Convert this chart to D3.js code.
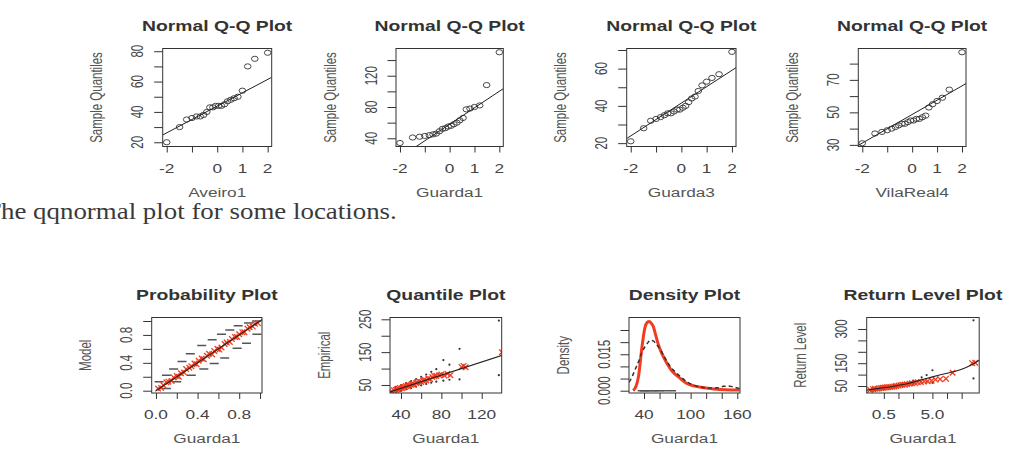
<!DOCTYPE html>
<html>
<head>
<meta charset="utf-8">
<script src="https://cdn.jsdelivr.net/npm/d3@7"></script>
<style>
body { margin: 0; background: #fff; }
svg { display: block; }
</style>
</head>
<body>
<script>
// ---- values ----

// normal Q-Q plots (theoretical quantiles shared by the four locations)
var qqTheo = [-2.00, -1.49, -1.21, -1.00, -0.82, -0.67, -0.54, -0.41, -0.29, -0.17, -0.06,
              0.06, 0.17, 0.29, 0.41, 0.54, 0.67, 0.82, 1.00, 1.21, 1.49, 2.00];
var aveiro1   = [20, 30, 35, 36, 37, 37, 38, 40, 43, 43, 44, 44, 44, 45, 47, 48, 49, 50, 54, 70, 75, 79];
var guarda1   = [34, 41, 42, 43, 44, 45, 46, 49, 52, 53, 55, 56, 58, 60, 63, 66, 77, 78, 80, 82, 108, 150];
var guarda3   = [21, 28, 32, 33, 34, 35, 36, 36, 37, 38, 38, 39, 40, 42, 44, 45, 48, 51, 53, 55, 57, 69];
var vilaReal4 = [31, 37, 38, 39, 40, 41, 42, 43, 43, 44, 45, 45, 46, 46, 47, 48, 53, 55, 57, 59, 64, 87];
var qqNames = ["Aveiro1", "Guarda1", "Guarda3", "VilaReal4"];
var qqLineA = [43.8, 57.9, 41.5, 48.7];   // qqline intercept
var qqLineB = [8.8, 21.1, 8.8, 8.8];      // qqline slope
var qqYLim = [[17.2, 81.8], [29.5, 154.8], [18.2, 70.8], [29, 89.3]];
var qqYTicks = [[20, 30, 40, 50, 60, 70, 80], [40, 60, 80, 100, 120, 140], [20, 30, 40, 50, 60, 70], [30, 40, 50, 60, 70, 80]];
var qqYLabels = [[20, 40, 60, 80], [40, 80, 120], [20, 40, 60], [30, 50, 70]];
var qqXTicks = [-2, -1, 0, 1, 2];
var qqXLabels = [-2, 0, 1, 2];

// probability plot
var probEmp   = [0.02, 0.05, 0.07, 0.10, 0.12, 0.15, 0.17, 0.20, 0.22, 0.24, 0.27, 0.29, 0.32, 0.34, 0.37, 0.39, 0.41, 0.44, 0.46, 0.49,
                 0.51, 0.54, 0.56, 0.59, 0.61, 0.63, 0.66, 0.68, 0.71, 0.73, 0.76, 0.78, 0.80, 0.83, 0.85, 0.88, 0.90, 0.93, 0.95, 0.98];
var probModel = [0.03, 0.04, 0.08, 0.12, 0.13, 0.14, 0.19, 0.21, 0.20, 0.25, 0.26, 0.31, 0.33, 0.35, 0.39, 0.38, 0.43, 0.46, 0.45, 0.50,
                 0.53, 0.52, 0.57, 0.60, 0.59, 0.62, 0.67, 0.69, 0.70, 0.74, 0.77, 0.77, 0.81, 0.84, 0.84, 0.89, 0.91, 0.92, 0.96, 0.97];
var probUpX = [0.03, 0.10, 0.17, 0.25, 0.33, 0.44, 0.54, 0.63, 0.71, 0.79, 0.89, 0.97];
var probUpY = [0.13, 0.22, 0.31, 0.42, 0.53, 0.65, 0.73, 0.81, 0.87, 0.93, 0.97, 1.00];
var probLoX = [0.10, 0.20, 0.34, 0.46, 0.56, 0.66, 0.78, 0.87, 0.97];
var probLoY = [0.03, 0.13, 0.22, 0.31, 0.39, 0.47, 0.61, 0.68, 0.81];

// quantile plot
var quantModel = [31, 33, 35, 36, 38, 39, 41, 42, 44, 45, 47, 48, 50, 51, 53, 55, 56, 58, 60, 62, 63, 65, 67, 69, 71, 73, 75, 78, 80, 83, 86, 89, 100, 102, 104, 140, 143];
var quantEmp   = [30, 34, 35, 37, 38, 41, 40, 43, 44, 47, 46, 50, 51, 53, 52, 56, 58, 60, 59, 63, 66, 64, 70, 68, 74, 77, 78, 80, 82, 79, 84, 80, 105, 108, 104, 150, 148];
var quantCiX  = [35, 40, 45, 50, 55, 60, 65, 70, 75, 82, 88, 98, 137];
var quantCiUp = [44, 50, 56, 62, 68, 75, 82, 90, 98, 126, 112, 160, 246];
var quantCiLo = [28, 32, 37, 41, 45, 49, 53, 57, 60, 63, 66, 67, 80];

// density plot
var densModelX = [26, 30, 33, 37, 41, 44, 47, 50, 52, 55, 58, 62, 65, 70, 75, 80, 85, 95, 105, 115, 130, 145, 163];
var densModelY = [0, 0.002, 0.006, 0.017, 0.0257, 0.0281, 0.0285, 0.0275, 0.0264, 0.023, 0.0195, 0.016, 0.014, 0.011, 0.0085,
                  0.0068, 0.0055, 0.003, 0.0019, 0.0013, 0.0007, 0.0004, 0.0003];
var densEmpX = [21, 25, 29, 33, 37, 41, 45, 48, 52, 56, 61, 66, 70, 75, 80, 88, 95, 105, 115, 125, 135, 142, 148, 154, 160, 163];
var densEmpY = [0.0035, 0.006, 0.009, 0.012, 0.0155, 0.018, 0.0198, 0.0208, 0.0205, 0.019, 0.017, 0.014, 0.0118, 0.0095, 0.0078,
                0.0055, 0.0037, 0.0022, 0.0014, 0.0011, 0.0012, 0.0018, 0.0019, 0.0016, 0.0011, 0.0009];
var densRug = [35, 38, 41, 43, 45, 48, 52, 55, 58, 62, 66, 72, 78];

// return level plot
var rlPeriod = [0.22, 0.3, 0.5, 0.8, 1, 1.5, 2, 3, 5, 7, 10, 15, 20, 30, 46];
var rlLevel  = [32, 36, 42, 49, 53, 60, 67, 77, 90, 98, 106, 115, 123, 140, 163];
var rlObsX = [0.26, 0.3, 0.33, 0.37, 0.4, 0.44, 0.48, 0.52, 0.57, 0.62, 0.68, 0.75, 0.82, 0.9, 1.0, 1.1, 1.2, 1.35, 1.5, 1.7,
              1.9, 2.2, 2.5, 2.9, 3.4, 4, 4.8, 5.8, 7.2, 9.5, 13, 33, 38];
var rlObsY = [33, 36, 38, 38, 40, 41, 42, 43, 44, 45, 46, 47, 48, 50, 52, 53, 55, 56, 58, 60, 62, 63, 66, 68, 70, 71, 73, 78,
              80, 82, 108, 150, 152];
var rlCiX  = [0.3, 0.5, 0.8, 1.2, 2, 3, 3.8, 5, 35];
var rlCiUp = [38, 47, 55, 62, 74, 88, 98, 119, 338];
var rlCiLo = [29, 37, 44, 50, 58, 63, 66, 64, 83];

var caption = "The qqnormal plot for some locations.";

// ---- drawing ----
var width = 1014, height = 457;
var sx = 1.38;            // the source picture is stretched sideways
var red = "#f23c20";

var svg = d3.select("body").append("svg")
    .attr("width", width)
    .attr("height", height)
    .style("font-family", "Arial, 'Liberation Sans', sans-serif");

var clipN = 0;

function htext(g, x, y, s, size, weight, color) {
    return g.append("text")
        .attr("transform", "translate(" + x + "," + y + ") scale(" + sx + ",1)")
        .attr("text-anchor", "middle")
        .style("font-size", size + "px")
        .style("font-weight", weight)
        .attr("fill", color)
        .text(s);
}

function vtext(g, x, y, s, size, color) {
    return g.append("text")
        .attr("transform", "translate(" + x + "," + y + ") rotate(-90) scale(1," + sx + ")")
        .attr("text-anchor", "middle")
        .attr("dominant-baseline", "central")
        .style("font-size", size + "px")
        .attr("fill", color)
        .text(s);
}

function frame(c) {
    var g = svg.append("g");
    var x = (c.log ? d3.scaleLog() : d3.scaleLinear()).domain(c.xDom).range([c.l, c.r]);
    var y = d3.scaleLinear().domain(c.yDom).range([c.b, c.t]);

    var id = "clip" + (clipN++);
    svg.append("clipPath").attr("id", id).append("rect")
        .attr("x", c.l).attr("y", c.t).attr("width", c.r - c.l).attr("height", c.b - c.t);
    var plot = g.append("g").attr("clip-path", "url(#" + id + ")");

    g.append("g")
        .attr("transform", "translate(0," + c.b + ")")
        .call(d3.axisBottom(x).tickValues(c.xTicks).tickSize(6).tickFormat(""))
        .call(function (a) { a.select(".domain").remove(); })
        .selectAll("line").attr("stroke", "#333");
    g.append("g")
        .attr("transform", "translate(" + c.l + ",0)")
        .call(d3.axisLeft(y).tickValues(c.yTicks).tickSize(8.5).tickFormat(""))
        .call(function (a) { a.select(".domain").remove(); })
        .selectAll("line").attr("stroke", "#333");

    g.append("rect")
        .attr("x", c.l).attr("y", c.t)
        .attr("width", c.r - c.l).attr("height", c.b - c.t)
        .attr("fill", "none").attr("stroke", "#333").attr("stroke-width", 1);

    c.xLabels.forEach(function (v, i) {
        htext(g, x(v), c.b + 26, c.xFmt[i], 12.5, "normal", "#444");
    });
    c.yLabels.forEach(function (v, i) {
        vtext(g, c.l - 25, y(v), c.yFmt[i], 11.5, "#444");
    });
    htext(g, (c.l + c.r) / 2, c.t - 18, c.title, 14, "bold", "#333");
    htext(g, (c.l + c.r) / 2, c.b + 50, c.xLab, 12.5, "normal", "#555");
    vtext(g, c.l - 66, (c.t + c.b) / 2, c.yLab, 11.5, "#555");

    return { plot: plot, x: x, y: y };
}

function crosses(p, xs, ys, sc) {
    p.selectAll(null).data(xs).enter().append("path")
        .attr("d", function (d, i) {
            var cx = sc.x(d), cy = sc.y(ys[i]);
            return "M" + (cx - 2.8) + "," + (cy - 2.8) + "L" + (cx + 2.8) + "," + (cy + 2.8) +
                   "M" + (cx - 2.8) + "," + (cy + 2.8) + "L" + (cx + 2.8) + "," + (cy - 2.8);
        })
        .attr("stroke", red).attr("stroke-width", 1.3).attr("fill", "none");
}

function dashes(p, xs, ys, sc, half) {
    p.selectAll(null).data(xs).enter().append("line")
        .attr("x1", function (d) { return sc.x(d) - half; })
        .attr("x2", function (d) { return sc.x(d) + half; })
        .attr("y1", function (d, i) { return sc.y(ys[i]); })
        .attr("y2", function (d, i) { return sc.y(ys[i]); })
        .attr("stroke", "#555").attr("stroke-width", 1.5);
}

function dots(p, xs, ys, sc) {
    p.selectAll(null).data(xs).enter().append("circle")
        .attr("cx", function (d) { return sc.x(d); })
        .attr("cy", function (d, i) { return sc.y(ys[i]); })
        .attr("r", 1.1).attr("fill", "#333");
}

// top row: normal Q-Q plots
var topL = [162.7, 396, 626.7, 858.3], topR = [271.7, 503.3, 736, 966];
var qqData = [aveiro1, guarda1, guarda3, vilaReal4];

qqData.forEach(function (vals, k) {
    var sc = frame({
        l: topL[k], r: topR[k], t: 48.5, b: 146.5,
        xDom: [-2.16, 2.16], yDom: qqYLim[k],
        xTicks: qqXTicks, xLabels: qqXLabels, xFmt: qqXLabels.map(String),
        yTicks: qqYTicks[k], yLabels: qqYLabels[k], yFmt: qqYLabels[k].map(String),
        title: "Normal Q-Q Plot", xLab: qqNames[k], yLab: "Sample Quantiles"
    });
    sc.plot.selectAll("ellipse").data(vals).enter().append("ellipse")
        .attr("cx", function (d, i) { return sc.x(qqTheo[i]); })
        .attr("cy", function (d) { return sc.y(d); })
        .attr("rx", 3.3).attr("ry", 2.6)
        .attr("fill", "none").attr("stroke", "#333").attr("stroke-width", 0.9);
    var ends = [-2.16, 2.16];
    sc.plot.append("line")
        .attr("x1", sc.x(ends[0])).attr("y1", sc.y(qqLineA[k] + qqLineB[k] * ends[0]))
        .attr("x2", sc.x(ends[1])).attr("y2", sc.y(qqLineA[k] + qqLineB[k] * ends[1]))
        .attr("stroke", "#222").attr("stroke-width", 1);
});

// caption (its first letter runs off the left edge, as in the source)
var capFont = "'Liberation Serif', 'Times New Roman', Times, serif";
var cap = svg.append("text")
    .style("font-family", capFont)
    .style("font-size", "23px")
    .attr("fill", "#3a3a3a")
    .text(caption);
var tmp = svg.append("text").style("font-family", capFont).style("font-size", "23px").text("T");
var tW = tmp.node().getComputedTextLength();
tmp.remove();
var fullW = cap.node().getComputedTextLength();
var capScale = 396 / (fullW - tW);
cap.attr("transform", "translate(" + (1 - tW * capScale) + ",219) scale(" + capScale + ",1)");

// bottom row
var bt = 317.5, bb = 393;

// probability plot
var pp = frame({
    l: 151.7, r: 262, t: bt, b: bb,
    xDom: [-0.041, 1.019], yDom: [-0.033, 1.05],
    xTicks: [0, 0.2, 0.4, 0.6, 0.8, 1], xLabels: [0, 0.4, 0.8], xFmt: ["0.0", "0.4", "0.8"],
    yTicks: [0, 0.2, 0.4, 0.6, 0.8, 1], yLabels: [0, 0.4, 0.8], yFmt: ["0.0", "0.4", "0.8"],
    title: "Probability Plot", xLab: "Guarda1", yLab: "Model"
});
dashes(pp.plot, probUpX, probUpY, pp, 4.5);
dashes(pp.plot, probLoX, probLoY, pp, 4.5);
crosses(pp.plot, probEmp, probModel, pp);
pp.plot.append("line")
    .attr("x1", pp.x(0)).attr("y1", pp.y(0)).attr("x2", pp.x(1.05)).attr("y2", pp.y(1.05))
    .attr("stroke", "#222").attr("stroke-width", 1.1);

// quantile plot
var qp = frame({
    l: 390, r: 501.7, t: bt, b: bb,
    xDom: [29.1, 139.8], yDom: [25.6, 255.5],
    xTicks: [40, 60, 80, 100, 120], xLabels: [40, 80, 120], xFmt: ["40", "80", "120"],
    yTicks: [50, 100, 150, 200, 250], yLabels: [50, 150, 250], yFmt: ["50", "150", "250"],
    title: "Quantile Plot", xLab: "Guarda1", yLab: "Empirical"
});
dots(qp.plot, quantCiX, quantCiUp, qp);
dots(qp.plot, quantCiX, quantCiLo, qp);
crosses(qp.plot, quantModel, quantEmp, qp);
qp.plot.append("line")
    .attr("x1", qp.x(25)).attr("y1", qp.y(25)).attr("x2", qp.x(145)).attr("y2", qp.y(145))
    .attr("stroke", "#222").attr("stroke-width", 1.1);

// density plot
var dp = frame({
    l: 629, r: 740, t: bt, b: bb,
    xDom: [20.7, 163.5], yDom: [-0.00095, 0.03015],
    xTicks: [40, 60, 80, 100, 120, 140, 160], xLabels: [40, 100, 160], xFmt: ["40", "100", "160"],
    yTicks: [0, 0.005, 0.01, 0.015, 0.02, 0.025], yLabels: [0, 0.015], yFmt: ["0.000", "0.015"],
    title: "Density Plot", xLab: "Guarda1", yLab: "Density"
});
var dLine = d3.line()
    .x(function (d) { return dp.x(d[0]); })
    .y(function (d) { return dp.y(d[1]); })
    .curve(d3.curveMonotoneX);
dp.plot.append("path")
    .attr("d", dLine(densModelX.map(function (v, i) { return [v, densModelY[i]]; })))
    .attr("fill", "none").attr("stroke", red).attr("stroke-width", 3);
dp.plot.append("path")
    .attr("d", dLine(densEmpX.map(function (v, i) { return [v, densEmpY[i]]; })))
    .attr("fill", "none").attr("stroke", "#333").attr("stroke-width", 1.5).attr("stroke-dasharray", "4,3");
dashes(dp.plot, densRug, densRug.map(function () { return 0; }), dp, 2.5);

// return level plot
var rp = frame({
    l: 866.7, r: 979.2, t: bt, b: bb, log: true,
    xDom: [0.222, 45.9], yDom: [19.3, 350.4],
    xTicks: [0.5, 1, 2, 5, 10, 20], xLabels: [0.5, 5], xFmt: ["0.5", "5.0"],
    yTicks: [50, 100, 150, 200, 250, 300], yLabels: [50, 150, 300], yFmt: ["50", "150", "300"],
    title: "Return Level Plot", xLab: "Guarda1", yLab: "Return Level"
});
dots(rp.plot, rlCiX, rlCiUp, rp);
dots(rp.plot, rlCiX, rlCiLo, rp);
crosses(rp.plot, rlObsX, rlObsY, rp);
rp.plot.append("path")
    .attr("d", d3.line()
        .x(function (d) { return rp.x(d[0]); })
        .y(function (d) { return rp.y(d[1]); })
        .curve(d3.curveMonotoneX)(rlPeriod.map(function (v, i) { return [v, rlLevel[i]]; })))
    .attr("fill", "none").attr("stroke", "#222").attr("stroke-width", 1.1);
</script>
</body>
</html>
